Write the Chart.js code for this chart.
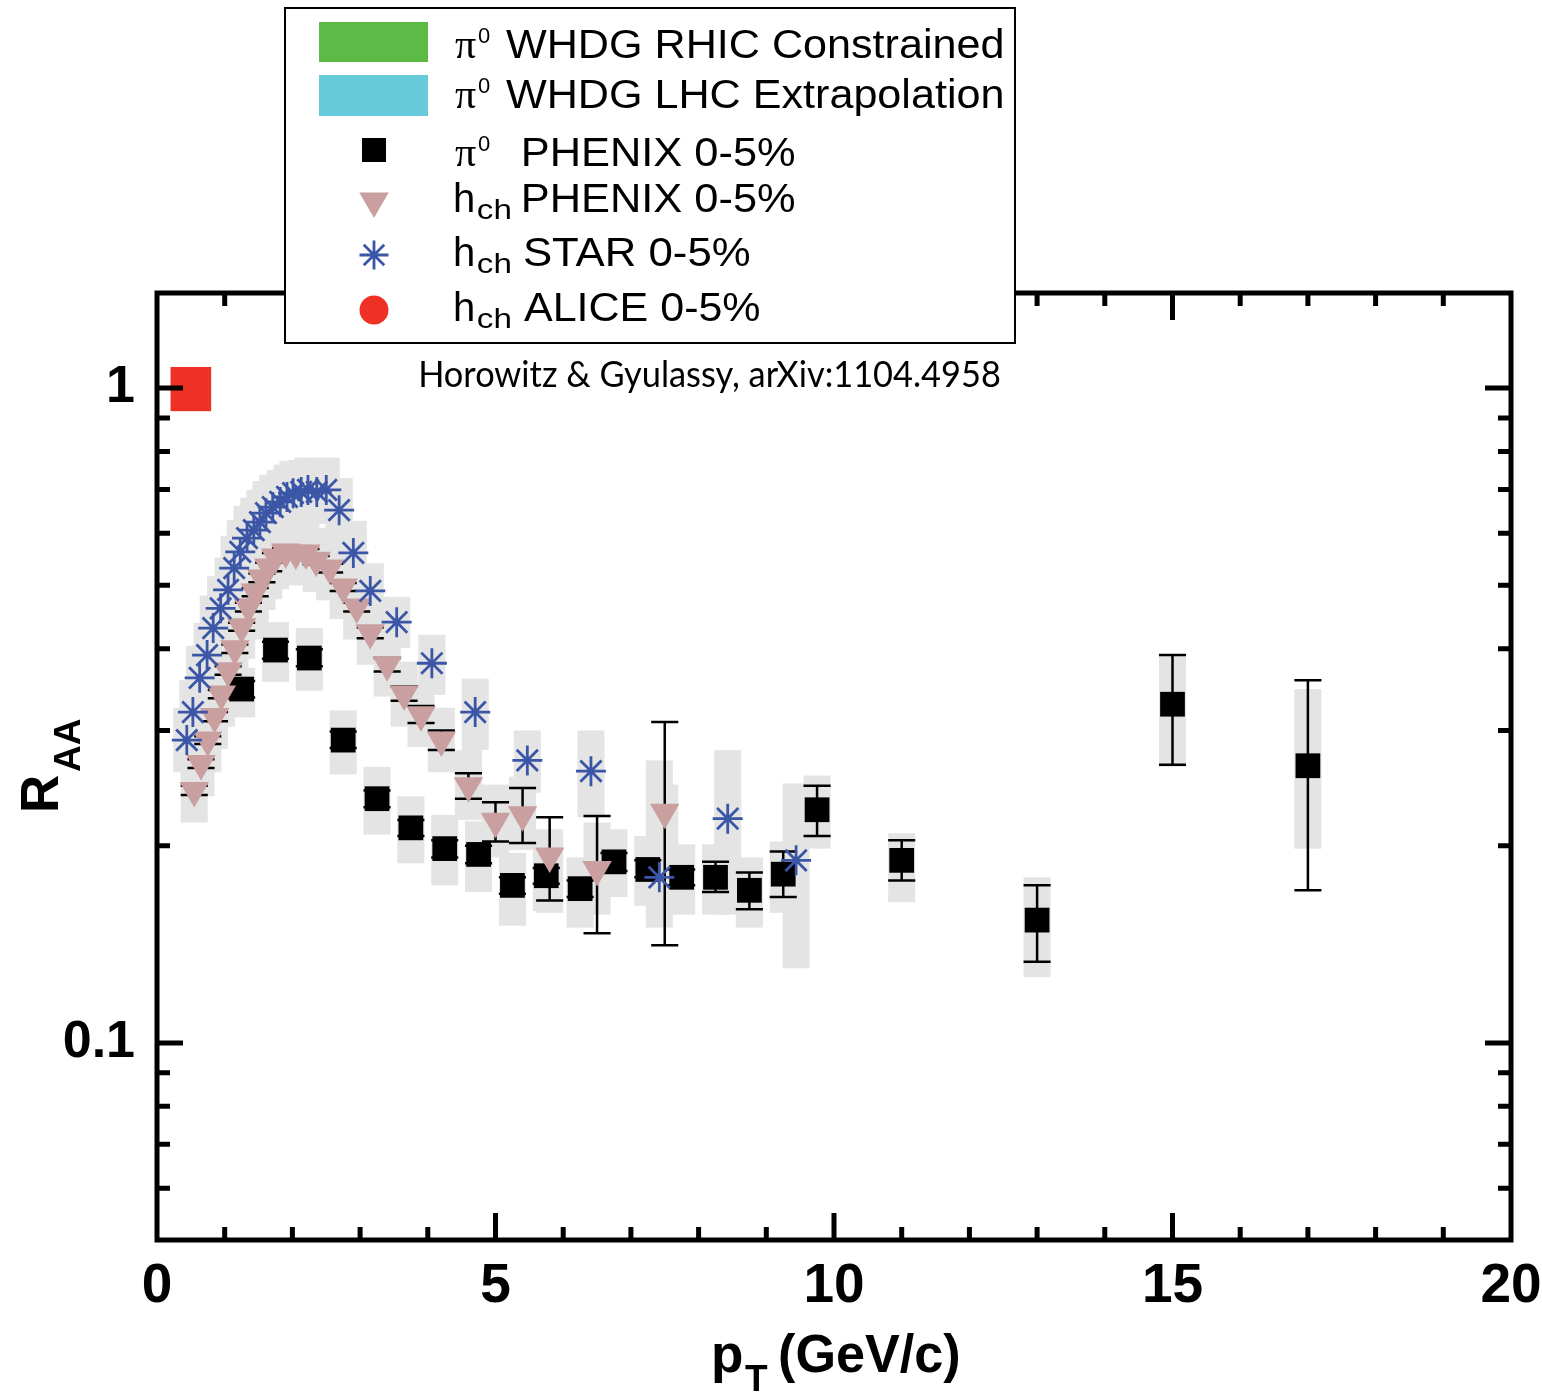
<!DOCTYPE html>
<html lang="en">
<head>
    <meta charset="UTF-8">
    <title>RAA vs pT</title>
    <script src="https://cdn.jsdelivr.net/npm/chart.js@4.4.1/dist/chart.umd.min.js"></script>
    <style>
        html, body { margin: 0; padding: 0; background: #fff; }
        canvas { display: block; }
    </style>
</head>
<body>

<canvas id="raa-chart" width="1542" height="1392"></canvas>

<script>

    // pi0 PHENIX 0-5%
    const pi0X = [1.25, 1.75, 2.25, 2.75, 3.25, 3.75, 4.25, 4.75, 5.25, 5.75, 6.25, 6.75, 7.25, 7.75, 8.25, 8.75, 9.25, 9.75, 11, 13, 15, 17];
    const pi0Y = [0.347, 0.398, 0.387, 0.290, 0.236, 0.213, 0.198, 0.194, 0.174, 0.180, 0.172, 0.189, 0.184, 0.179, 0.179, 0.171, 0.181, 0.227, 0.190, 0.154, 0.329, 0.265];
    const pi0StatLo = [0.337, 0.386, 0.376, 0.282, 0.229, 0.207, 0.192, 0.188, 0.169, 0.175, 0.167, 0.183, 0.179, 0.174, 0.170, 0.160, 0.167, 0.207, 0.177, 0.133, 0.266, 0.171];
    const pi0StatHi = [0.357, 0.410, 0.399, 0.299, 0.243, 0.219, 0.204, 0.200, 0.179, 0.185, 0.177, 0.195, 0.190, 0.184, 0.189, 0.182, 0.196, 0.247, 0.204, 0.174, 0.391, 0.358];
    const pi0SysLo = [0.314, 0.356, 0.345, 0.257, 0.208, 0.188, 0.174, 0.170, 0.151, 0.159, 0.150, 0.167, 0.162, 0.157, 0.157, 0.150, 0.158, 0.198, 0.164, 0.126, 0.264, 0.198];
    const pi0SysHi = [0.374, 0.439, 0.430, 0.322, 0.264, 0.238, 0.223, 0.218, 0.195, 0.204, 0.192, 0.212, 0.207, 0.201, 0.201, 0.192, 0.203, 0.256, 0.209, 0.179, 0.391, 0.347];

    // h_ch PHENIX 0-5%
    const hPhxX = [0.55, 0.65, 0.75, 0.85, 0.95, 1.05, 1.15, 1.25, 1.35, 1.45, 1.55, 1.65, 1.75, 1.9, 2.05, 2.2, 2.35, 2.55, 2.75, 2.95, 3.15, 3.4, 3.65, 3.9, 4.2, 4.6, 5.0, 5.4, 5.8, 6.5, 7.5];
    const hPhxY = [0.243, 0.267, 0.290, 0.315, 0.341, 0.370, 0.400, 0.432, 0.463, 0.488, 0.513, 0.533, 0.552, 0.562, 0.560, 0.560, 0.546, 0.531, 0.497, 0.463, 0.423, 0.378, 0.341, 0.317, 0.290, 0.247, 0.218, 0.223, 0.193, 0.184, 0.225];
    const hPhxStatLo = [0.239, 0.263, 0.286, 0.310, 0.336, 0.365, 0.394, 0.426, 0.456, 0.481, 0.505, 0.525, 0.544, 0.554, 0.552, 0.552, 0.538, 0.523, 0.490, 0.456, 0.415, 0.369, 0.333, 0.308, 0.280, 0.236, 0.203, 0.202, 0.165, 0.147, 0.141];
    const hPhxStatHi = [0.247, 0.271, 0.294, 0.320, 0.346, 0.376, 0.406, 0.438, 0.470, 0.495, 0.521, 0.541, 0.560, 0.570, 0.568, 0.568, 0.554, 0.539, 0.504, 0.470, 0.431, 0.387, 0.350, 0.327, 0.300, 0.258, 0.233, 0.245, 0.221, 0.222, 0.309];
    const hPhxSysLo = [0.217, 0.238, 0.259, 0.281, 0.304, 0.330, 0.357, 0.386, 0.413, 0.436, 0.458, 0.476, 0.493, 0.502, 0.500, 0.500, 0.488, 0.474, 0.444, 0.413, 0.378, 0.338, 0.304, 0.283, 0.259, 0.219, 0.192, 0.197, 0.158, 0.157, 0.200];
    const hPhxSysHi = [0.272, 0.299, 0.325, 0.353, 0.382, 0.414, 0.448, 0.484, 0.519, 0.547, 0.575, 0.597, 0.618, 0.629, 0.627, 0.627, 0.612, 0.595, 0.557, 0.519, 0.474, 0.423, 0.382, 0.355, 0.325, 0.280, 0.248, 0.255, 0.212, 0.217, 0.248];

    // h_ch STAR 0-5%
    const starX = [0.44, 0.53, 0.63, 0.74, 0.83, 0.94, 1.05, 1.14, 1.23, 1.33, 1.43, 1.52, 1.61, 1.71, 1.82, 1.92, 2.01, 2.13, 2.23, 2.36, 2.5, 2.69, 2.9, 3.15, 3.54, 4.06, 4.7, 5.47, 6.41, 7.42, 8.43, 9.44];
    const starY = [0.290, 0.320, 0.361, 0.391, 0.430, 0.461, 0.492, 0.531, 0.562, 0.590, 0.607, 0.624, 0.644, 0.658, 0.670, 0.682, 0.691, 0.694, 0.699, 0.694, 0.699, 0.651, 0.560, 0.490, 0.439, 0.380, 0.320, 0.270, 0.260, 0.179, 0.220, 0.190];
    const starSysLo = [0.259, 0.286, 0.322, 0.349, 0.384, 0.412, 0.439, 0.474, 0.502, 0.527, 0.542, 0.557, 0.575, 0.588, 0.598, 0.609, 0.617, 0.620, 0.624, 0.620, 0.624, 0.581, 0.500, 0.442, 0.401, 0.340, 0.280, 0.241, 0.221, 0.150, 0.157, 0.130];
    const starSysHi = [0.325, 0.358, 0.404, 0.438, 0.482, 0.516, 0.551, 0.595, 0.629, 0.661, 0.680, 0.699, 0.721, 0.737, 0.750, 0.764, 0.774, 0.777, 0.783, 0.777, 0.783, 0.729, 0.627, 0.540, 0.480, 0.420, 0.360, 0.300, 0.300, 0.270, 0.280, 0.249];

    // h_ch ALICE 0-5% normalisation box near unity
    const aliceX = [0.5];
    const aliceLo = [0.922];
    const aliceHi = [1.077];

    // axis ticks
    const xTickLabels = [0, 5, 10, 15, 20];
    const xMinorTicks = [1, 2, 3, 4, 6, 7, 8, 9, 11, 12, 13, 14, 16, 17, 18, 19];
    const xMajorTicks = [5, 10, 15];
    const yTickLabels = [0.1, 1];
    const yMinorTicks = [0.06, 0.07, 0.08, 0.09, 0.2, 0.3, 0.4, 0.5, 0.6, 0.7, 0.8, 0.9];

    const gray = '#e3e4e3';
    const boxHalf = 0.2;
    const aliceHalf = 0.3;
    const sans = '"Liberation Sans", Arial, sans-serif';

    function pts(xs, ys) {
        return xs.map((v, i) => ({x: v, y: ys[i]}));
    }

    // draw text with its glyph box starting at `left`, stretched to `width` if given
    function fitText(c, text, font, left, base, width) {
        c.font = font;
        const m = c.measureText(text);
        const w = m.actualBoundingBoxLeft + m.actualBoundingBoxRight;
        const k = width ? width / w : 1;
        c.save();
        c.translate(left, base);
        c.scale(k, 1);
        c.fillText(text, m.actualBoundingBoxLeft, 0);
        c.restore();
    }

    const overlay = {
        id: 'overlay',
        beforeDatasetsDraw(chart) {
            const c = chart.ctx, xs = chart.scales.x, ys = chart.scales.y;
            c.save();
            c.fillStyle = gray;
            [[starX, starSysLo, starSysHi], [hPhxX, hPhxSysLo, hPhxSysHi], [pi0X, pi0SysLo, pi0SysHi]].forEach(([px, lo, hi]) => {
                px.forEach((v, i) => {
                    const l = xs.getPixelForValue(v - boxHalf), r = xs.getPixelForValue(v + boxHalf);
                    const t = ys.getPixelForValue(hi[i]), b = ys.getPixelForValue(lo[i]);
                    c.fillRect(l, t, r - l, b - t);
                });
            });

            c.fillStyle = '#ee3124';
            aliceX.forEach((v, i) => {
                const l = xs.getPixelForValue(v - aliceHalf), r = xs.getPixelForValue(v + aliceHalf);
                const t = ys.getPixelForValue(aliceHi[i]), b = ys.getPixelForValue(aliceLo[i]);
                c.fillRect(l, t, r - l, b - t);
            });

            c.strokeStyle = '#000';
            c.lineWidth = 2.5;
            [[hPhxX, hPhxStatLo, hPhxStatHi], [pi0X, pi0StatLo, pi0StatHi]].forEach(([px, lo, hi]) => {
                px.forEach((v, i) => {
                    const x = xs.getPixelForValue(v);
                    const l = xs.getPixelForValue(v - boxHalf), r = xs.getPixelForValue(v + boxHalf);
                    const t = ys.getPixelForValue(hi[i]), b = ys.getPixelForValue(lo[i]);
                    c.beginPath();
                    c.moveTo(x, t); c.lineTo(x, b);
                    c.moveTo(l, t); c.lineTo(r, t);
                    c.moveTo(l, b); c.lineTo(r, b);
                    c.stroke();
                });
            });
            c.restore();
        },
        afterDatasetsDraw(chart) {
            const c = chart.ctx, xs = chart.scales.x, ys = chart.scales.y, a = chart.chartArea;
            c.save();

            // frame and inward ticks on all four sides
            c.strokeStyle = '#000';
            c.lineWidth = 5;
            c.strokeRect(a.left, a.top, a.right - a.left, a.bottom - a.top);
            c.beginPath();
            xMinorTicks.concat(xMajorTicks).forEach(v => {
                const p = xs.getPixelForValue(v);
                const len = xMajorTicks.includes(v) ? 27 : 13;
                c.moveTo(p, a.bottom); c.lineTo(p, a.bottom - len);
                c.moveTo(p, a.top); c.lineTo(p, a.top + len);
            });
            yMinorTicks.concat(yTickLabels).forEach(v => {
                const p = ys.getPixelForValue(v);
                const len = yTickLabels.includes(v) ? 26 : 13;
                c.moveTo(a.left, p); c.lineTo(a.left + len, p);
                c.moveTo(a.right, p); c.lineTo(a.right - len, p);
            });
            c.stroke();

            c.fillStyle = '#000';
            c.textBaseline = 'alphabetic';
            c.textAlign = 'left';

            // axis titles
            fitText(c, 'p', 'bold 53px ' + sans, 714, 1372);
            fitText(c, 'T', 'bold 37px ' + sans, 745, 1391);
            fitText(c, '(GeV/c)', 'bold 53px ' + sans, 780, 1372, 179);

            c.save();
            c.translate(58, 810);
            c.rotate(-Math.PI / 2);
            fitText(c, 'R', 'bold 53px ' + sans, 0, 0);
            fitText(c, 'AA', 'bold 37px ' + sans, 38, 22);
            c.restore();

            fitText(c, 'Horowitz & Gyulassy, arXiv:1104.4958', '36px Lato, ' + sans, 421, 387, 579);

            // legend
            c.fillStyle = '#fff';
            c.fillRect(285, 8, 730, 335);
            c.strokeStyle = '#000';
            c.lineWidth = 2;
            c.strokeRect(285, 8, 730, 335);

            c.fillStyle = '#5cba47';
            c.fillRect(319, 22, 109, 40);
            c.fillStyle = '#66cadb';
            c.fillRect(319, 75, 109, 41);

            const draw = Chart.helpers.drawPoint;
            c.fillStyle = '#000';
            draw(c, {pointStyle: 'rect', radius: 17, rotation: 0, borderWidth: 0}, 374, 150);
            c.fillStyle = '#c9a09f';
            draw(c, {pointStyle: 'triangle', radius: 17, rotation: 180, borderWidth: 0}, 374, 201);
            c.strokeStyle = '#3b56a6';
            c.lineWidth = 2.8;
            draw(c, {pointStyle: 'star', radius: 14.5, rotation: 0, borderWidth: 2.8}, 374, 255);
            c.fillStyle = '#ee3124';
            draw(c, {pointStyle: 'circle', radius: 14.5, rotation: 0, borderWidth: 0}, 374, 310);

            c.fillStyle = '#000';
            const main = '40px ' + sans, sub = '28px ' + sans, sup = '22px ' + sans, pi = '42px "Liberation Serif", serif';
            [[58, 'WHDG RHIC Constrained', 506, 496], [108, 'WHDG LHC Extrapolation', 506, 496], [166, 'PHENIX 0-5%', 524, 271]].forEach(([b, t, l, w]) => {
                fitText(c, '\u03c0', pi, 455, b);
                fitText(c, '0', sup, 478, b - 15);
                fitText(c, t, main, l, b, w);
            });
            [[212, 'PHENIX 0-5%', 271], [266, 'STAR 0-5%', 226], [321, 'ALICE 0-5%', 236]].forEach(([b, t, w]) => {
                fitText(c, 'h', main, 455, b);
                fitText(c, 'ch', sub, 478, b + 7, 32);
                fitText(c, t, main, 524, b, w);
            });

            c.restore();
        }
    };

    new Chart(document.getElementById('raa-chart'), {
        type: 'scatter',
        data: {
            datasets: [{
                label: 'h_ch STAR 0-5%',
                data: pts(starX, starY),
                pointStyle: 'star',
                pointRadius: 15,
                pointBorderWidth: 2.8,
                pointBorderColor: '#3b56a6',
                pointBackgroundColor: 'rgba(0,0,0,0)',
                order: 0
            }, {
                label: 'h_ch PHENIX 0-5%',
                data: pts(hPhxX, hPhxY),
                pointStyle: 'triangle',
                pointRotation: 180,
                pointRadius: 17,
                pointBorderWidth: 0,
                pointBackgroundColor: '#c9a09f',
                order: 1
            }, {
                label: 'pi0 PHENIX 0-5%',
                data: pts(pi0X, pi0Y),
                pointStyle: 'rect',
                pointRadius: 17.5,
                pointBorderWidth: 0,
                pointBackgroundColor: '#000',
                order: 2
            }]
        },
        options: {
            responsive: false,
            animation: false,
            events: [],
            layout: {padding: {top: 293, right: 31, left: 0, bottom: 0}},
            plugins: {legend: {display: false}, tooltip: {enabled: false}},
            scales: {
                x: {
                    type: 'linear',
                    min: 0,
                    max: 20,
                    afterBuildTicks: s => { s.ticks = xTickLabels.map(v => ({value: v})); },
                    ticks: {
                        autoSkip: false,
                        maxRotation: 0,
                        padding: 14,
                        color: '#000',
                        font: {family: 'Liberation Sans', weight: 'bold', size: 55}
                    },
                    grid: {display: false, drawTicks: false},
                    border: {display: false},
                    afterFit: s => { s.height = 152; s.paddingLeft = 0; s.paddingRight = 0; }
                },
                y: {
                    type: 'logarithmic',
                    min: 0.05,
                    max: 1.397,
                    afterBuildTicks: s => { s.ticks = yTickLabels.map(v => ({value: v})); },
                    ticks: {
                        autoSkip: false,
                        padding: 22,
                        color: '#000',
                        font: {family: 'Liberation Sans', weight: 'bold', size: 52},
                        callback: v => String(v)
                    },
                    grid: {display: false, drawTicks: false},
                    border: {display: false},
                    afterFit: s => { s.width = 157; s.paddingTop = 0; s.paddingBottom = 0; }
                }
            }
        },
        plugins: [overlay]
    });

</script>

</body>
</html>
